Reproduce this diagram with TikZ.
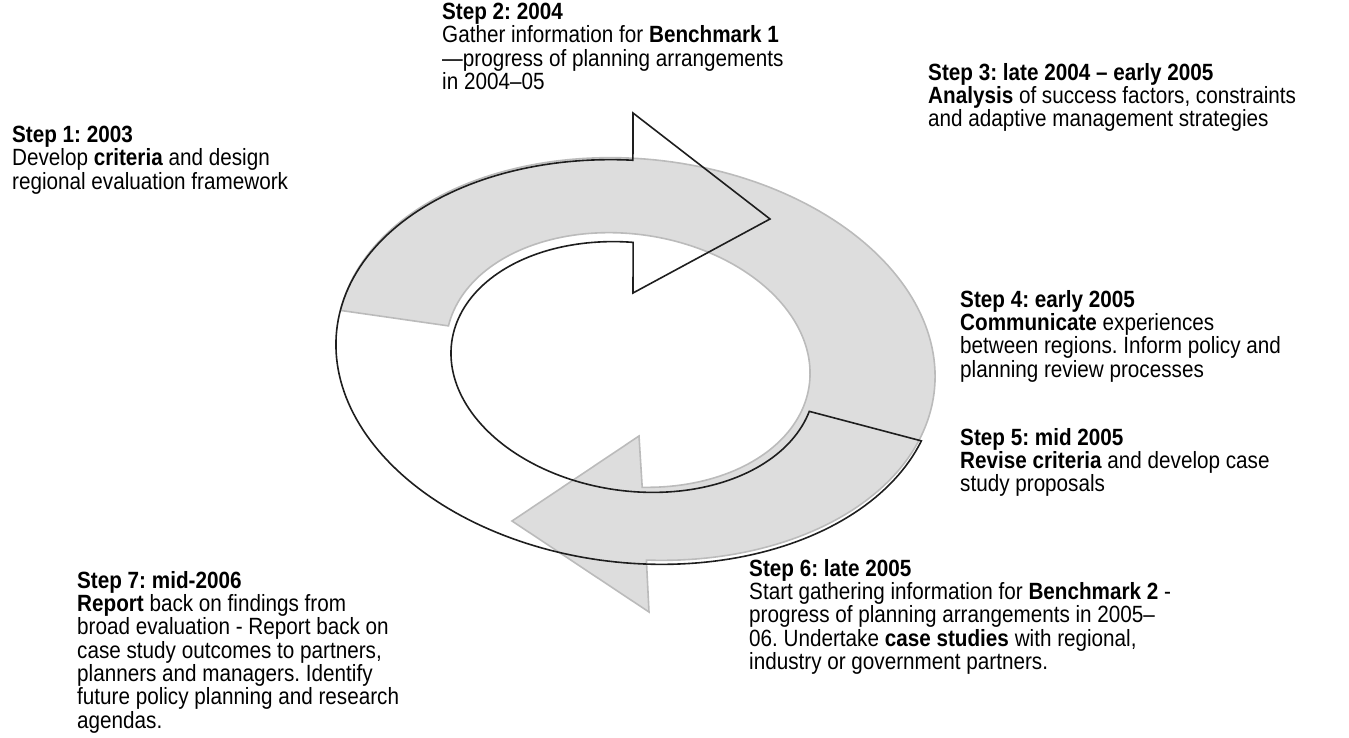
\documentclass[tikz,border=0pt]{standalone}
\usepackage{fontspec}
\setmainfont{Liberation Sans}[FakeStretch=0.88]
\definecolor{bandfill}{HTML}{DDDDDD}
\definecolor{bandline}{HTML}{BBBBBB}
\definecolor{inkline}{HTML}{1E1E1E}
\begin{document}
\frenchspacing
\begin{tikzpicture}[x=1pt,y=1pt,
  steptext/.style={anchor=north west,inner sep=0pt,align=left,
    font=\fontsize{23.5}{23.3}\selectfont,text=black},
  grayarrow/.style={fill=bandfill,draw=bandline,line width=1.6pt,line join=miter},
  blackarrow/.style={draw=inkline,line width=1.6pt,line join=miter}]
\useasboundingbox (0,0) rectangle (1349,-738);
% gray arrow (tail at the left, over the top, head at the bottom)
\path[grayarrow]
  plot[domain=-175:84,samples=160,variable=\t]
    ({636+298.36*cos(\t)-20.91*sin(\t)},{-359-31.36*cos(\t)-198.90*sin(\t)})
  -- (649,-612) -- (512,-521) -- (639,-436)
  -- plot[domain=-80:176,samples=140,variable=\t]
    ({628+181.22*cos(\t)+17.54*sin(\t)},{-360-25.47*cos(\t)+124.77*sin(\t)})
  -- cycle;
% outlined arrow (tail at the bottom right, under, left, head at the top)
\path[blackarrow]
  plot[domain=14:265.4,samples=160,variable=\t]
    ({636+299.35*cos(\t)-21.01*sin(\t)},{-362-31.46*cos(\t)-199.90*sin(\t)})
  -- (633,-113) -- (770,-219) -- (633,-293)
  -- plot[domain=95.4:351,samples=140,variable=\t]
    ({633+181.22*cos(\t)+17.26*sin(\t)},{-367-25.47*cos(\t)+122.79*sin(\t)})
  -- cycle;
% texts
\node[steptext] (s1) at (12,-126) {\textbf{Step 1: 2003}\\Develop \textbf{criteria} and design\\regional evaluation framework};
\node[steptext] (s2) at (442,-3) {\textbf{Step 2: 2004}\\Gather information for \textbf{Benchmark 1}\\—progress of planning arrangements\\in 2004–05};
\node[steptext] (s3) at (928,-63) {\textbf{Step 3: late 2004 – early 2005}\\\textbf{Analysis} of success factors, constraints\\and adaptive management strategies};
\node[steptext] (s4) at (960,-290) {\textbf{Step 4: early 2005}\\\textbf{Communicate} experiences\\between regions. Inform policy and\\planning review processes};
\node[steptext] (s5) at (960,-428) {\textbf{Step 5: mid 2005}\\\textbf{Revise criteria} and develop case\\study proposals};
\node[steptext] (s6) at (749,-559) {\textbf{Step 6: late 2005}\\Start gathering information for \textbf{Benchmark 2} -\\progress of planning arrangements in 2005–\\06. Undertake \textbf{case studies} with regional,\\industry or government partners.};
\node[steptext] (s7) at (77,-571) {\textbf{Step 7: mid-2006}\\\textbf{Report} back on findings from\\broad evaluation - Report back on\\case study outcomes to partners,\\planners and managers. Identify\\future policy planning and research\\agendas.};
\end{tikzpicture}
\end{document}
